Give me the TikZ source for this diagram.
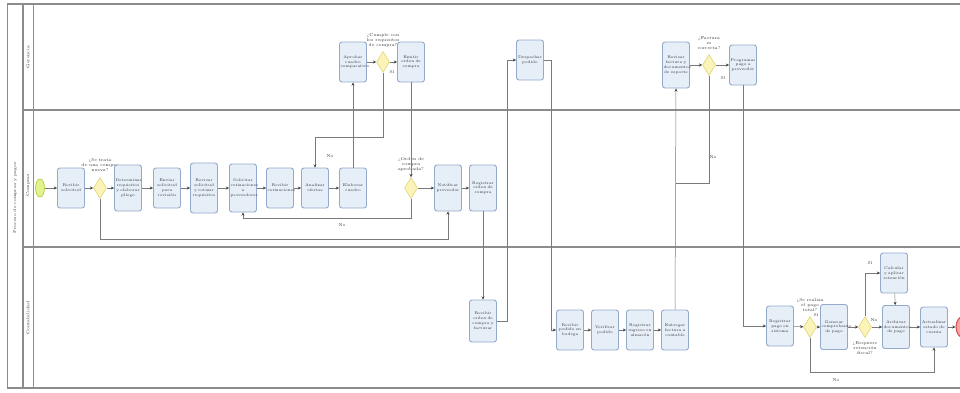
\documentclass[tikz,border=0pt]{standalone}
\usetikzlibrary{arrows.meta,shapes.geometric,positioning}
\definecolor{taskfill}{HTML}{E6EEF8}
\definecolor{taskdraw}{HTML}{93AACB}
\definecolor{gwfill}{HTML}{FBF3B8}
\definecolor{gwdraw}{HTML}{E2D37A}
\definecolor{stfill}{HTML}{E4F28C}
\definecolor{stdraw}{HTML}{AFC83C}
\definecolor{endfill}{HTML}{F5A3A3}
\definecolor{enddraw}{HTML}{D94B4B}
\definecolor{lanecol}{HTML}{8C8C8C}
\definecolor{flowcol}{HTML}{7A7A7A}
\definecolor{txtcol}{HTML}{333333}
\newcommand\mytaskfont{\fontsize{3.9}{4.9}\selectfont\hyphenpenalty10000\exhyphenpenalty10000\relax}
\tikzset{
  task/.style={draw=taskdraw, fill=taskfill, rounded corners=2.5pt, line width=0.9pt,
    minimum width=27pt, minimum height=40pt, text width=25pt, align=center, inner sep=1pt,
    font=\mytaskfont, text=txtcol},
  gw/.style={diamond, aspect=0.6, draw=gwdraw, fill=gwfill, line width=0.6pt,
    minimum width=13pt, minimum height=21pt, inner sep=0pt},
  flow/.style={draw=flowcol, line width=0.5pt, -{Stealth[length=3.2pt,width=3pt,color=black!75]}},
  plain/.style={draw=flowcol, line width=0.5pt},
  lbl/.style={font=\fontsize{4.2}{5}\selectfont, text=txtcol, align=center, inner sep=0pt},
  lanesep/.style={draw=lanecol, line width=1.6pt},
  hdr/.style={font=\fontsize{4.2}{5}\selectfont, text=txtcol, rotate=90, inner sep=0pt}
}
\begin{document}
\begin{tikzpicture}[x=1pt,y=-1pt]
\useasboundingbox (0,0) rectangle (960,392);
\fill[white] (0,0) rectangle (960,392);
% pool and lanes
\draw[lanesep] (7,4) -- (960,4);
\draw[lanesep] (7,388) -- (960,388);
\draw[draw=lanecol, line width=0.8pt] (7,4) -- (7,388);
\draw[lanesep] (23,4) -- (23,388);
\draw[draw=lanecol, line width=0.6pt] (33,4) -- (33,388);
\draw[lanesep] (23,110) -- (960,110);
\draw[lanesep] (23,247) -- (960,247);
\node[hdr] (pool) at (15,198) {Proceso de compras y pagos};
\node[hdr] (lane1) at (28,57) {Gerencia};
\node[hdr] (lane2) at (28,185) {Compras};
\node[hdr] (lane3) at (28,318) {Contabilidad};

% lane 2 main row
\node[ellipse, draw=stdraw, fill=stfill, line width=0.6pt, minimum width=9pt, minimum height=18pt, inner sep=0pt] (start) at (40,188) {};
\node[task] (t1) at (71,188) {Recibir solicitud};
\node[gw] (g1) at (100,188) {};
\node[lbl, above=5pt of g1] (g1l) {¿Se trata\\de una compra\\nueva?};
\node[task, minimum height=46pt] (t2) at (128,188) {Determinar requisitos y elaborar pliego};
\node[task] (t3) at (167,188) {Enviar solicitud para revisión};
\node[task, minimum height=50pt] (t4) at (204,188) {Revisar solicitud y cotizar requisitos};
\node[task, minimum height=48pt] (t5) at (243,188) {Solicitar cotizaciones a proveedores};
\node[task] (t6) at (280,188) {Recibir cotizaciones};
\node[task] (t7) at (315,188) {Analizar ofertas};
\node[task] (t8) at (353,188) {Elaborar cuadro};
\node[gw] (g2) at (411,188) {};
\node[lbl, above=6pt of g2] (g2l) {¿Orden de\\compra\\aprobada?};
\node[task, minimum height=46pt] (t9) at (448,188) {Notificar proveedor};
\node[task, minimum height=46pt] (t10) at (483,188) {Registrar orden de compra};

% lane 1
\node[task] (tt1) at (353,62) {Aprobar cuadro comparativo};
\node[gw] (tg1) at (383,62) {};
\node[lbl, above=4pt of tg1] (tg1l) {¿Cumple con\\los requisitos\\de compra?};
\node[task] (tt2) at (411,62) {Emitir orden de compra};
\node[task] (tt3) at (530,60) {Despachar pedido};
\node[task, minimum height=46pt] (tt4) at (676,65) {Revisar factura y documentos de soporte};
\node[gw] (tg3) at (709,65) {};
\node[lbl, above=4pt of tg3] (tg3l) {¿Factura\\es\\correcta?};
\node[task] (tt5) at (743,65) {Programar pago a proveedor};

% lane 3
\node[task, minimum height=42pt] (b1) at (483,321) {Recibir orden de compra y facturar};
\node[task] (b2) at (570,330) {Recibir pedido en bodega};
\node[task] (b3) at (605,330) {Verificar pedido};
\node[task] (b4) at (640,330) {Registrar ingreso en almacén};
\node[task] (b5) at (675,330) {Entregar factura a contable};
\node[task] (b6) at (780,326) {Registrar pago en sistema};
\node[gw] (g4) at (810,327) {};
\node[lbl, above=4pt of g4] (g4l) {¿Se realiza\\el pago\\total?};
\node[task, minimum height=45pt] (b7) at (834,327) {Generar comprobante de pago};
\node[gw] (g5) at (865,327) {};
\node[lbl, below=4pt of g5] (g5l) {¿Requiere\\retención\\fiscal?};
\node[task] (b8) at (894,273) {Calcular y aplicar retención};
\node[task, minimum height=43pt] (b9) at (896,327) {Archivar documentos de pago};
\node[task] (b10) at (934,327) {Actualizar estado de cuenta};
\node[ellipse, draw=enddraw, fill=endfill, line width=1pt, minimum width=16pt, minimum height=22pt, inner sep=0pt] (end) at (964,327) {};

% flows lane 2
\draw[flow] (start) -- (t1);
\draw[flow] (t1) -- (g1);
\draw[flow] (g1) -- (t2);
\draw[flow] (t2) -- (t3);
\draw[flow] (t3) -- (t4);
\draw[flow] (t4) -- (t5);
\draw[flow] (t5) -- (t6);
\draw[flow] (t6) -- (t7);
\draw[flow] (t7) -- (t8);
\draw[flow] (g2) -- (t9);
\draw[flow] (t9) -- (t10);
\draw[flow] (g1.south) -- (g1.south |- 0,239) -| (t9.south);
\draw[flow] (g2.south) -- (g2.south |- 0,218) -| (t5.south);
\node[lbl] (no1) at (342,225) {No};
% lane 1 flows
\draw[flow] (t8.north) -- (tt1.south);
\draw[flow] (tt1) -- (tg1);
\draw[flow] (tg1) -- (tt2);
\node[lbl] (si1) at (392,72) {Sí};
\draw[flow] (tt2.south) -- (g2.north);
\draw[flow] (tg1.south) -- (tg1.south |- 0,137) -| (t7.north);
\node[lbl] (no2) at (330,156) {No};
\draw[flow] (t10.south) -- (b1.north);
\draw[flow] (b1.east) -- ++(10,0) |- (tt3.west);
\draw[flow] (tt3.east) -- ++(7,0) |- (b2.west);
\draw[flow] (b2) -- (b3);
\draw[flow] (b3) -- (b4);
\draw[flow] (b4) -- (b5);
\draw[flow] (b5.north) -- (tt4.south);
\draw[plain] (tg3.south) |- (tt4.south |- 0,183);
\node[lbl] (no3) at (713,157) {No};
\draw[flow] (tt4) -- (tg3);
\draw[flow] (tg3) -- (tt5);
\node[lbl] (si3) at (723,78) {Sí};
\draw[flow] (tt5.south) |- (b6.west);
\draw[flow] (b6) -- (g4);
\draw[flow] (g4) -- (b7);
\node[lbl] (si4) at (816,315) {Sí};
\draw[flow] (g4.south) -- (g4.south |- 0,372) -| (b10.south);
\node[lbl] (no4) at (836,380) {No};
\draw[flow] (b7) -- (g5);
\draw[flow] (g5) -- (b9);
\node[lbl] (si5) at (874,320) {No};
\draw[flow] (g5.north) |- (b8.west);
\node[lbl] (no5) at (870,263) {Sí};
\draw[flow] (b8) -- (b9);
\draw[flow] (b9) -- (b10);
\draw[flow] (b10) -- (end);
\end{tikzpicture}
\end{document}
